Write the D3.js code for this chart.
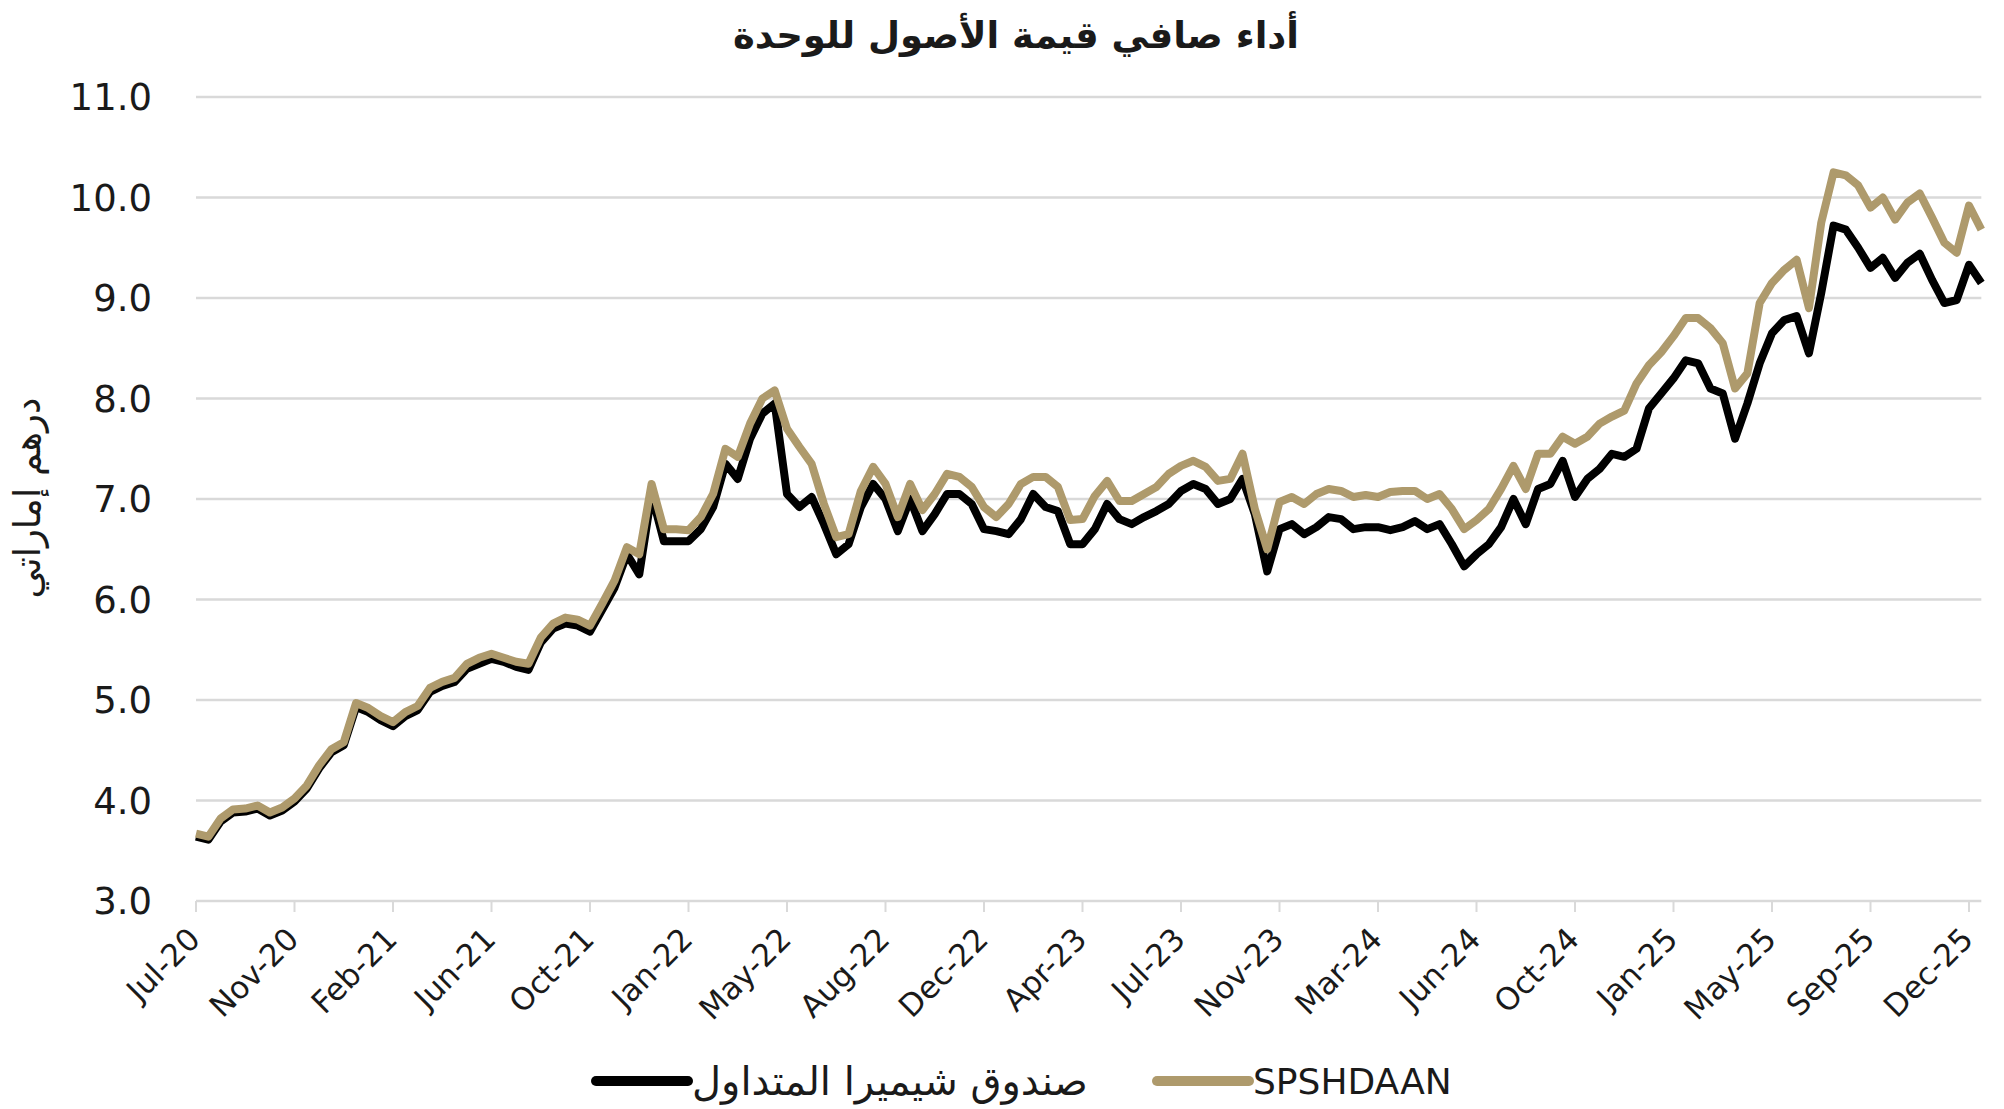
<!DOCTYPE html>
<html>
<head>
<meta charset="utf-8">
<script src="https://cdn.jsdelivr.net/npm/d3@7"></script>
<style>
  body { margin: 0; background: #fff; }
  svg { display: block; }
  text { font-family: "DejaVu Sans", sans-serif; fill: #1a1a1a; }
</style>
</head>
<body>
<svg id="chart"></svg>
<script>
const chartTitle = "أداء صافي قيمة الأصول للوحدة";
const yTitle = "درهم إماراتي";
const seriesNames = ["صندوق شيميرا المتداول", "SPSHDAAN"];

const tickLabels = ["Jul-20", "Nov-20", "Feb-21", "Jun-21", "Oct-21", "Jan-22", "May-22", "Aug-22", "Dec-22",
  "Apr-23", "Jul-23", "Nov-23", "Mar-24", "Jun-24", "Oct-24", "Jan-25", "May-25", "Sep-25", "Dec-25"];
const yTicks = [3, 4, 5, 6, 7, 8, 9, 10, 11];

// values read every 1/8 of a tick interval
const step = 0.125;

const fundNav = [
  3.64, 3.61, 3.79, 3.88, 3.89, 3.92, 3.85, 3.90,
  3.99, 4.12, 4.32, 4.48, 4.55, 4.93, 4.88, 4.80,
  4.74, 4.84, 4.90, 5.08, 5.14, 5.18, 5.31, 5.36,
  5.41, 5.38, 5.33, 5.30, 5.57, 5.71, 5.76, 5.74,
  5.68, 5.90, 6.12, 6.45, 6.25, 7.05, 6.58, 6.58,
  6.58, 6.70, 6.92, 7.35, 7.20, 7.60, 7.85, 7.95,
  7.05, 6.92, 7.02, 6.75, 6.45, 6.55, 6.92, 7.15,
  7.00, 6.68, 7.00, 6.68, 6.85, 7.05, 7.05, 6.95,
  6.70, 6.68, 6.65, 6.80, 7.05, 6.92, 6.88, 6.55,
  6.55, 6.70, 6.95, 6.80, 6.75, 6.82, 6.88, 6.95,
  7.08, 7.15, 7.10, 6.95, 7.00, 7.20, 6.85, 6.28,
  6.70, 6.75, 6.65, 6.72, 6.82, 6.80, 6.70, 6.72,
  6.72, 6.69, 6.72, 6.78, 6.70, 6.75, 6.55, 6.33,
  6.45, 6.55, 6.72, 7.00, 6.75, 7.10, 7.15, 7.38,
  7.02, 7.20, 7.30, 7.45, 7.42, 7.50, 7.90, 8.05,
  8.20, 8.38, 8.35, 8.10, 8.05, 7.60, 7.95, 8.35,
  8.65, 8.78, 8.82, 8.45, 9.05, 9.72, 9.68, 9.50,
  9.30, 9.40, 9.20, 9.35, 9.44, 9.18, 8.95, 8.98,
  9.33, 9.15
];

const indexNav = [
  3.67, 3.64, 3.82, 3.91, 3.92, 3.95, 3.88, 3.93,
  4.02, 4.15, 4.35, 4.51, 4.58, 4.97, 4.92, 4.84,
  4.78, 4.88, 4.94, 5.12, 5.18, 5.22, 5.36, 5.42,
  5.46, 5.42, 5.38, 5.36, 5.62, 5.76, 5.82, 5.80,
  5.74, 5.96, 6.19, 6.52, 6.45, 7.15, 6.70, 6.70,
  6.69, 6.82, 7.05, 7.50, 7.42, 7.75, 8.00, 8.08,
  7.70, 7.52, 7.35, 6.95, 6.62, 6.65, 7.08, 7.32,
  7.15, 6.82, 7.15, 6.89, 7.05, 7.25, 7.22, 7.12,
  6.92, 6.82, 6.95, 7.15, 7.22, 7.22, 7.12, 6.79,
  6.80, 7.03, 7.18, 6.98, 6.98, 7.05, 7.12, 7.25,
  7.33, 7.38, 7.32, 7.18, 7.20, 7.45, 6.90, 6.50,
  6.97, 7.02, 6.95, 7.05, 7.10, 7.08, 7.02, 7.04,
  7.02, 7.07, 7.08, 7.08, 7.00, 7.05, 6.90, 6.70,
  6.79, 6.90, 7.10, 7.33, 7.10, 7.45, 7.45, 7.62,
  7.55, 7.62, 7.75, 7.82, 7.88, 8.15, 8.33, 8.46,
  8.62, 8.80, 8.80, 8.70, 8.55, 8.10, 8.25, 8.95,
  9.15, 9.28, 9.38, 8.90, 9.75, 10.25, 10.22, 10.12,
  9.90, 10.00, 9.78, 9.95, 10.04, 9.80, 9.55, 9.45,
  9.92, 9.68
];

const colors = ["#000000", "#ae9a6c"];

const width = 2004, height = 1109;
const plotLeft = 196, plotTop = 97, plotBottom = 901;
const lastPos = (indexNav.length - 1) * step;
const plotRight = plotLeft + lastPos * 98.5;

const svg = d3.select("#chart")
  .attr("width", width)
  .attr("height", height);

const x = d3.scaleLinear().domain([0, lastPos]).range([plotLeft, plotRight]);
const y = d3.scaleLinear().domain([3, 11]).range([plotBottom, plotTop]);

// grid
svg.append("g")
  .selectAll("line")
  .data(yTicks)
  .enter()
  .append("line")
  .attr("x1", plotLeft)
  .attr("x2", plotRight)
  .attr("y1", d => y(d))
  .attr("y2", d => y(d))
  .attr("stroke", "#d9d9d9")
  .attr("stroke-width", 2.5);

// y labels
svg.append("g")
  .selectAll("text")
  .data(yTicks)
  .enter()
  .append("text")
  .attr("x", 152)
  .attr("y", d => y(d))
  .attr("dy", "0.36em")
  .attr("text-anchor", "end")
  .style("font-size", "37px")
  .text(d => d.toFixed(1));

// x axis ticks + labels
const xAxis = svg.append("g");
xAxis.selectAll("line")
  .data(tickLabels)
  .enter()
  .append("line")
  .attr("x1", (d, i) => x(i))
  .attr("x2", (d, i) => x(i))
  .attr("y1", plotBottom)
  .attr("y2", plotBottom + 11)
  .attr("stroke", "#d9d9d9")
  .attr("stroke-width", 2);

xAxis.selectAll("text")
  .data(tickLabels)
  .enter()
  .append("text")
  .attr("text-anchor", "end")
  .attr("transform", (d, i) => `translate(${x(i) + 6},${plotBottom + 40}) rotate(-45)`)
  .style("font-size", "31px")
  .text(d => d);

// lines
const line = d3.line()
  .x((d, i) => x(i * step))
  .y(d => y(d));

[fundNav, indexNav].forEach((s, k) => {
  svg.append("path")
    .datum(s)
    .attr("fill", "none")
    .attr("stroke", colors[k])
    .attr("stroke-width", 8)
    .attr("stroke-linejoin", "round")
    .attr("d", line);
});

// title
svg.append("text")
  .attr("x", 1016)
  .attr("y", 48)
  .attr("text-anchor", "middle")
  .style("font-size", "37px")
  .style("font-weight", "bold")
  .text(chartTitle);

svg.append("text")
  .attr("transform", "translate(40,498) rotate(-90)")
  .attr("text-anchor", "middle")
  .style("font-size", "37px")
  .text(yTitle);

// legend
const legendItems = [
  { name: seriesNames[0], color: colors[0], x: 596, size: 40 },
  { name: seriesNames[1], color: colors[1], x: 1157, size: 36 }
];
const legend = svg.append("g");
legend.selectAll("line")
  .data(legendItems)
  .enter()
  .append("line")
  .attr("x1", d => d.x)
  .attr("x2", d => d.x + 92)
  .attr("y1", 1081)
  .attr("y2", 1081)
  .attr("stroke", d => d.color)
  .attr("stroke-width", 10)
  .attr("stroke-linecap", "round");
legend.selectAll("text")
  .data(legendItems)
  .enter()
  .append("text")
  .attr("x", d => d.x + 96)
  .attr("y", 1081)
  .attr("dy", "0.36em")
  .style("font-size", d => d.size + "px")
  .text(d => d.name);
</script>
</body>
</html>
